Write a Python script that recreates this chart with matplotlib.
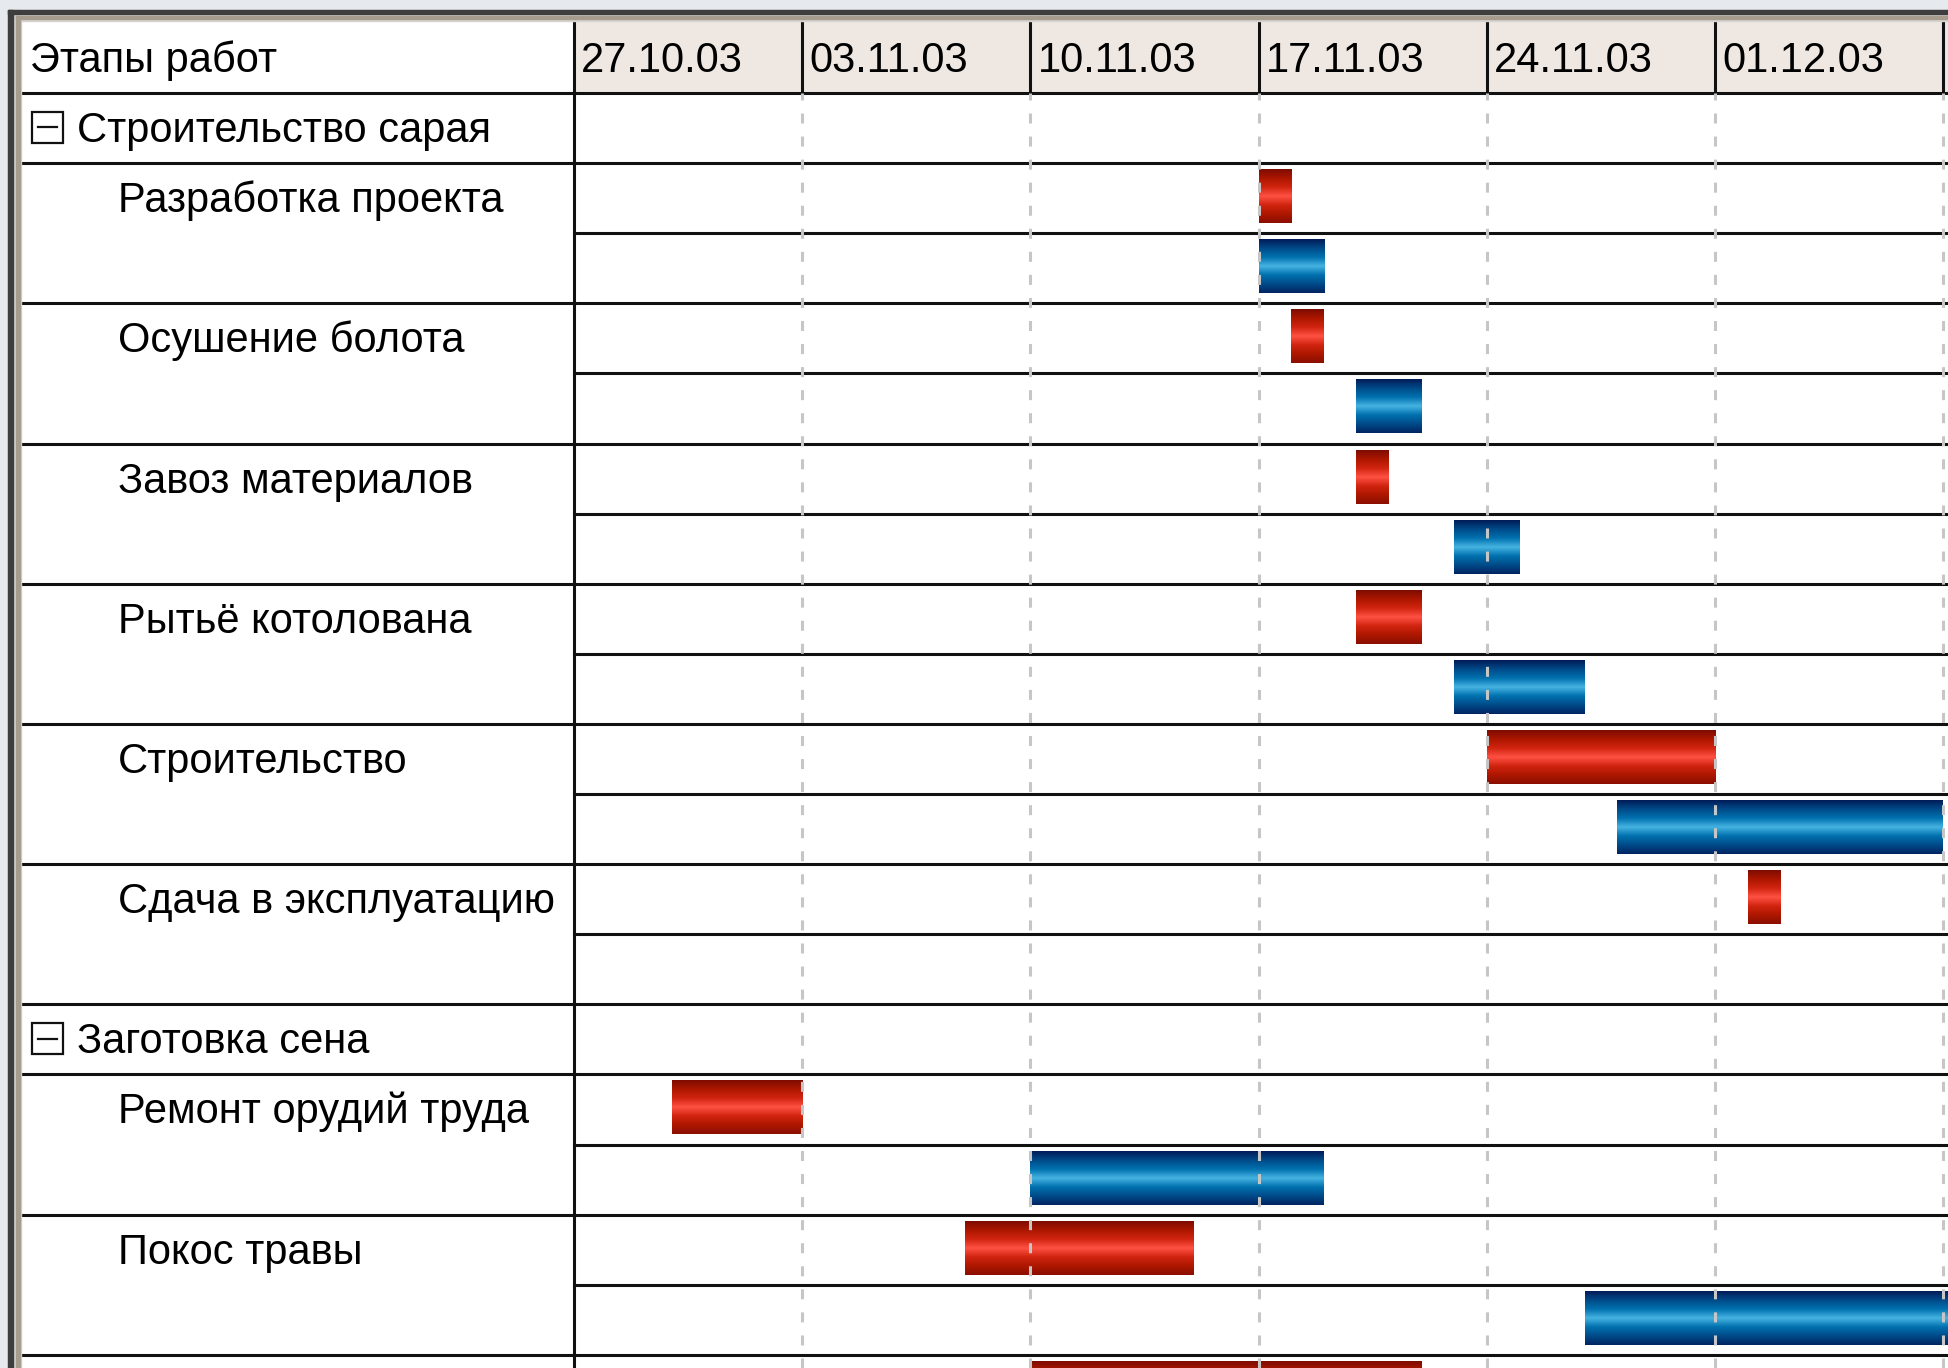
import numpy as np
import matplotlib.pyplot as plt
from matplotlib.colors import LinearSegmentedColormap
from matplotlib.patches import Rectangle

plt.rcParams['font.family'] = ['Liberation Sans', 'DejaVu Sans']
plt.rcParams['lines.scale_dashes'] = False

# header: first day of each week
week_labels = ['27.10.03', '03.11.03', '10.11.03', '17.11.03', '24.11.03', '01.12.03']

groups = ['Строительство сарая', 'Заготовка сена']
tasks = ['Разработка проекта', 'Осушение болота', 'Завоз материалов',
         'Рытьё котолована', 'Строительство', 'Сдача в эксплуатацию',
         'Ремонт орудий труда', 'Покос травы', '']
task_group = [0, 0, 0, 0, 0, 0, 1, 1, 1]

# days counted from 27.10.03; plan = red, fact = blue
plan_start = [21, 22, 24, 24, 28, 36, 3, 12, 14]
plan_end = [22, 23, 25, 26, 35, 37, 7, 19, 26]
fact_start = [21, 24, 27, 27, 32, None, 14, 31, None]
fact_end = [23, 26, 29, 31, 42, None, 23, 44, None]

# layout in pixels
W, H = 1948, 1368
X0, XC = 21, 574
HEAD_TOP, HEAD_BOT = 20, 93
ROW_H = 70.1
DAY_W = 32.6
BAR_T, BAR_B = 0.093, 0.856
FS = 30


def fx(px):
    return px / W


def fy(py):
    return 1 - py / H


def bare(ax, color='white'):
    ax.set_facecolor(color)
    ax.set_xticks([])
    ax.set_yticks([])
    for s in ax.spines.values():
        s.set_visible(False)


red_cmap = LinearSegmentedColormap.from_list('plan', [
    (0.0, '#7E0C00'), (0.18, '#B01800'), (0.33, '#D02410'), (0.5, '#FF5244'),
    (0.67, '#D02410'), (0.82, '#B01800'), (1.0, '#8A0E00')])
blue_cmap = LinearSegmentedColormap.from_list('fact', [
    (0.0, '#001C58'), (0.18, '#004E8C'), (0.33, '#0070AE'), (0.5, '#46B4E2'),
    (0.67, '#0070AE'), (0.82, '#004E8C'), (1.0, '#002462')])
grad = np.linspace(0, 1, 128).reshape(-1, 1)

fig = plt.figure(figsize=(W / 100, H / 100), dpi=100)
fig.patch.set_facecolor('#E6E9EE')

# window frame
fig.add_artist(Rectangle((fx(8), 0), fx(21) - fx(8), fy(10), color='#D6D4D0'))
fig.add_artist(Rectangle((fx(8), fy(21)), 1 - fx(8), fy(10) - fy(21), color='#D6D4D0'))
fig.add_artist(Rectangle((fx(8), 0), fx(5), fy(10), color='#3E3E3E'))
fig.add_artist(Rectangle((fx(8), fy(14)), 1 - fx(8), fy(10) - fy(14), color='#3E3E3E'))
fig.add_artist(Rectangle((fx(16), 0), fx(4), fy(16), color='#A69C8E'))
fig.add_artist(Rectangle((fx(16), fy(19)), 1 - fx(16), fy(16) - fy(19), color='#A69C8E'))

n_vis = (H - HEAD_BOT) / ROW_H
x_max = (W - XC) / DAY_W
n_weeks = len(week_labels)

head_left = fig.add_axes([fx(X0), fy(HEAD_BOT), fx(XC) - fx(X0), fy(HEAD_TOP) - fy(HEAD_BOT)])
bare(head_left)
head_left.set_xlim(X0, XC)
head_left.set_ylim(HEAD_BOT, HEAD_TOP)
head_left.text(30, 72, 'Этапы работ', fontsize=FS, va='baseline')

head_ax = fig.add_axes([fx(XC), fy(HEAD_BOT), 1 - fx(XC), fy(HEAD_TOP) - fy(HEAD_BOT)])
bare(head_ax, '#EFE8E2')
head_ax.set_xlim(0, x_max)
head_ax.set_ylim(HEAD_BOT, HEAD_TOP)
for i in range(n_weeks + 1):
    head_ax.axvline(7 * i, color='#111111', lw=2.2, clip_on=False)
for i, lab in enumerate(week_labels):
    head_ax.text(7 * i + 7 / DAY_W, 72, lab, fontsize=FS, va='baseline')

left_ax = fig.add_axes([fx(X0), 0, fx(XC) - fx(X0), fy(HEAD_BOT)])
bare(left_ax)
left_ax.set_xlim(X0, XC)
left_ax.set_ylim(n_vis, 0)

ax = fig.add_axes([fx(XC), 0, 1 - fx(XC), fy(HEAD_BOT)])
bare(ax)
ax.set_xlim(0, x_max)
ax.set_ylim(n_vis, 0)

# rows: group header then two lines (plan / fact) per task
row = 0
for g, gname in enumerate(groups):
    left_ax.axhline(row, color='#111111', lw=2.2, clip_on=False)
    left_ax.add_patch(Rectangle((32, row + 0.27), 31, 31 / ROW_H, fill=False,
                                edgecolor='#111111', lw=1.6))
    left_ax.plot([38, 57], [row + 0.49, row + 0.49], color='#111111', lw=1.6)
    left_ax.text(77, row + 0.70, gname, fontsize=FS, va='baseline')
    row += 1
    for t, tname in enumerate(tasks):
        if task_group[t] != g:
            continue
        left_ax.axhline(row, color='#111111', lw=2.2)
        left_ax.text(118, row + 0.70, tname, fontsize=FS, va='baseline')
        ax.imshow(grad, cmap=red_cmap, aspect='auto', interpolation='bilinear',
                  extent=(plan_start[t], plan_end[t], row + BAR_B, row + BAR_T), zorder=2)
        if fact_start[t] is not None:
            ax.imshow(grad, cmap=blue_cmap, aspect='auto', interpolation='bilinear',
                      extent=(fact_start[t], fact_end[t], row + 1 + BAR_B, row + 1 + BAR_T),
                      zorder=2)
        row += 2
left_ax.axhline(row, color='#111111', lw=2.2)

for k in range(row + 1):
    ax.axhline(k, color='#111111', lw=2.2, zorder=3, clip_on=False)

ax.set_xlim(0, x_max)
ax.set_ylim(n_vis, 0)

# week grid
for i in range(1, n_weeks + 1):
    ax.axvline(7 * i, color='#C6C6C6', lw=2.2, ls=(0, (7.2, 9.4)), zorder=4)
ax.axvline(0, color='#111111', lw=2.2, zorder=5, clip_on=False)

fig.savefig('out.png', dpi=100, facecolor=fig.get_facecolor())
